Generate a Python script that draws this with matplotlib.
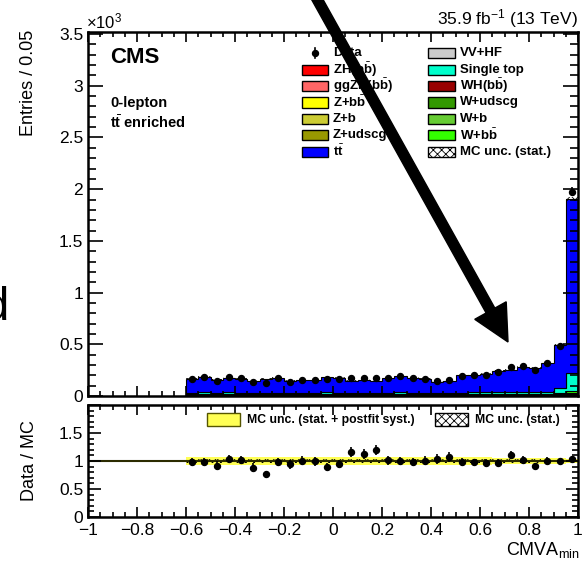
import numpy as np
import matplotlib
matplotlib.use("Agg")
import matplotlib.pyplot as plt
from matplotlib.patches import Rectangle, FancyArrow
from matplotlib.lines import Line2D
from matplotlib.ticker import MultipleLocator, FuncFormatter, FixedLocator

plt.rcParams["font.family"] = ["Liberation Sans", "DejaVu Sans"]
plt.rcParams["mathtext.fontset"] = "custom"
plt.rcParams["mathtext.rm"] = "Liberation Sans"
plt.rcParams["mathtext.it"] = "Liberation Sans:italic"
plt.rcParams["mathtext.bf"] = "Liberation Sans:bold"
plt.rcParams["mathtext.sf"] = "Liberation Sans"
plt.rcParams["hatch.linewidth"] = 0.6

# ---------------- binning: CMVA_min from -0.6 to 1.0 in steps of 0.05 ----------------
bin_lo, bin_hi, n_bins = -0.6, 1.0, 32
edges = np.linspace(bin_lo, bin_hi, n_bins + 1)
centers = 0.5 * (edges[:-1] + edges[1:])

# ---------------- background components (events per bin) ----------------
zh = [0.1, 0.1, 0.1, 0.1, 0.1, 0.1, 0.1, 0.1, 0.1, 0.1, 0.1, 0.1, 0.1, 0.1, 0.1, 0.1,
      0.1, 0.2, 0.2, 0.2, 0.2, 0.2, 0.2, 0.2, 0.3, 0.3, 0.3, 0.4, 0.4, 0.6, 1.2, 4.5]
ggzh = [0.0, 0.0, 0.0, 0.0, 0.0, 0.0, 0.0, 0.0, 0.0, 0.0, 0.0, 0.0, 0.0, 0.0, 0.0, 0.0,
        0.1, 0.1, 0.1, 0.1, 0.1, 0.1, 0.1, 0.1, 0.1, 0.1, 0.1, 0.1, 0.1, 0.2, 0.3, 1.0]
wh = [0.1, 0.1, 0.1, 0.1, 0.1, 0.1, 0.1, 0.1, 0.1, 0.1, 0.1, 0.1, 0.1, 0.1, 0.1, 0.1,
      0.2, 0.2, 0.2, 0.2, 0.2, 0.2, 0.2, 0.2, 0.3, 0.3, 0.3, 0.4, 0.4, 0.6, 1.2, 4.0]
vv_hf = [0.8, 0.9, 0.8, 0.8, 0.8, 0.7, 0.8, 0.8, 0.7, 0.7, 0.7, 0.8, 0.8, 0.7, 0.7, 0.7,
         0.8, 0.9, 0.8, 0.8, 0.7, 0.7, 0.9, 0.9, 0.9, 1.0, 1.0, 1.1, 1.1, 1.2, 1.5, 3.0]
z_udscg = [3, 3, 2, 3, 3, 2, 3, 3, 2, 2, 3, 3, 3, 2, 2, 3,
           3, 3, 2, 2, 2, 2, 3, 3, 3, 3, 3, 2, 2, 2, 2, 1]
z_b = [1, 1, 1, 1, 1, 1, 1, 1, 1, 1, 1, 1, 1, 1, 1, 1,
       1, 1, 1, 1, 1, 1, 1, 1, 1, 1, 1, 1, 1, 1, 1, 2]
z_bb = [1, 1, 1, 1, 1, 1, 1, 1, 1, 1, 1, 1, 1, 1, 1, 1,
        1, 1, 1, 1, 1, 1, 1, 1, 1, 1, 1, 1, 2, 2, 3, 6]
w_udscg = [12, 13, 12, 12, 11, 11, 12, 12, 11, 11, 11, 12, 12, 11, 11, 11,
           12, 12, 11, 10, 10, 10, 11, 11, 11, 11, 10, 10, 9, 8, 7, 4]
w_b = [3, 3, 3, 3, 3, 3, 3, 3, 3, 3, 3, 3, 3, 3, 3, 3,
       3, 3, 3, 3, 3, 3, 3, 3, 3, 3, 3, 3, 3, 3, 3, 4]
w_bb = [2, 2, 2, 2, 2, 2, 2, 2, 2, 2, 2, 2, 2, 2, 2, 2,
        2, 2, 2, 2, 2, 2, 2, 2, 2, 2, 3, 3, 3, 4, 8, 22]
single_top = [10, 11, 10, 11, 10, 9, 10, 10, 9, 9, 9, 11, 10, 9, 9, 9,
              10, 11, 10, 10, 9, 9, 11, 12, 12, 13, 14, 16, 16, 20, 45, 170]
ttbar = [135, 149, 127, 142, 137, 119, 135, 141, 117, 122, 120, 147, 143, 119, 125, 113,
         139, 163, 145, 135, 110, 115, 165, 171, 180, 205, 214, 247, 236, 272, 417, 1680]

# observed events
data = [165, 180, 146, 182, 172, 131, 128, 171, 138, 153, 150, 162, 167, 173, 174, 172,
        174, 198, 173, 166, 144, 155, 194, 200, 207, 234, 278, 291, 249, 317, 488, 1976]

# relative MC uncertainties
mc_stat_rel = [0.035, 0.035, 0.036, 0.035, 0.035, 0.037, 0.036, 0.035, 0.037, 0.036, 0.036,
               0.035, 0.035, 0.037, 0.036, 0.037, 0.035, 0.034, 0.035, 0.036, 0.038, 0.037,
               0.033, 0.033, 0.032, 0.030, 0.030, 0.028, 0.028, 0.026, 0.020, 0.010]
mc_syst_rel = [0.070, 0.070, 0.070, 0.070, 0.070, 0.070, 0.070, 0.070, 0.070, 0.070, 0.070,
               0.070, 0.070, 0.070, 0.070, 0.070, 0.070, 0.070, 0.070, 0.070, 0.070, 0.070,
               0.065, 0.065, 0.065, 0.060, 0.060, 0.060, 0.055, 0.050, 0.045, 0.030]

stack = [
    ("ZH(bb)", zh, "#ff0000"),
    ("ggZH(bb)", ggzh, "#ff6666"),
    ("WH(bb)", wh, "#990000"),
    ("VV+HF", vv_hf, "#cccccc"),
    ("Z+udscg", z_udscg, "#999900"),
    ("Z+b", z_b, "#cccc33"),
    ("Z+bb", z_bb, "#ffff00"),
    ("W+udscg", w_udscg, "#339900"),
    ("W+b", w_b, "#66cc33"),
    ("W+bb", w_bb, "#33ff00"),
    ("Single top", single_top, "#00ffcc"),
    ("ttbar", ttbar, "#0000ff"),
]

W, H = 587, 565
fig = plt.figure(figsize=(W / 100, H / 100), dpi=100)


def fx(px):
    return px / W


def fy(py):
    return 1 - py / H


ax = fig.add_axes([fx(88), fy(396), 490 / W, 364 / H])
rax = fig.add_axes([fx(88), fy(517), 490 / W, 112 / H])

# ---------------- stacked histogram ----------------
bottom = np.zeros(n_bins)
for name, vals, col in stack:
    top = bottom + np.asarray(vals, dtype=float)
    ax.stairs(top, edges, baseline=bottom.copy(), fill=True, facecolor=col,
              edgecolor="black", linewidth=0.8, zorder=1)
    bottom = top
total = bottom

stat_abs = total * np.asarray(mc_stat_rel)
ax.stairs(total + stat_abs, edges, baseline=total - stat_abs, fill=True,
          facecolor="none", edgecolor="black", hatch="xxxx", linewidth=0, zorder=1.2)

d = np.asarray(data, dtype=float)
ax.errorbar(centers, d, yerr=np.sqrt(d), fmt="o", color="black", ms=4.3,
            elinewidth=1.2, capsize=0, zorder=3)

ax.set_xlim(-1, 1)
ax.set_ylim(0, 3520)
ax.set_axisbelow(False)
ax.xaxis.set_major_locator(MultipleLocator(0.2))
ax.xaxis.set_minor_locator(MultipleLocator(0.05))
ax.yaxis.set_major_locator(MultipleLocator(500))
ax.yaxis.set_minor_locator(MultipleLocator(100))
ax.yaxis.set_major_formatter(FuncFormatter(lambda v, p: f"{v / 1000:g}"))
ax.tick_params(which="both", direction="in", top=True, right=True, labelbottom=False,
               labelsize=12.5, width=1.2)
ax.tick_params(axis="x", which="major", length=7.2)
ax.tick_params(axis="x", which="minor", length=3.6)
ax.tick_params(axis="y", which="major", length=11, pad=3.5)
ax.tick_params(axis="y", which="minor", length=5.5)
for s in ax.spines.values():
    s.set_linewidth(1.8)

# ---------------- ratio panel ----------------
ratio = d / total
ratio_err = np.sqrt(d) / total
syst = np.asarray(mc_syst_rel)
stat = np.asarray(mc_stat_rel)
rax.stairs(1 + syst, edges, baseline=1 - syst, fill=True, facecolor="#ffff55",
           linewidth=0, zorder=1)
rax.stairs(1 + stat, edges, baseline=1 - stat, fill=True, facecolor="none",
           edgecolor="black", hatch="xxxx", linewidth=0, zorder=1.2)
rax.axhline(1, color="#2b2b00", lw=1.5, zorder=1.5)
rax.errorbar(centers, ratio, yerr=ratio_err, fmt="o", color="black", ms=4.3,
             elinewidth=1.2, capsize=0, zorder=3)

rax.set_xlim(-1, 1)
rax.set_ylim(0, 2)
rax.set_axisbelow(False)
rax.xaxis.set_major_locator(MultipleLocator(0.2))
rax.xaxis.set_minor_locator(MultipleLocator(0.05))


def xfmt(v, p):
    v = round(v, 2)
    if abs(v) < 1e-9:
        return "0"
    return f"{v:g}".replace("-", "\u2212")


rax.xaxis.set_major_formatter(FuncFormatter(xfmt))
rax.yaxis.set_major_locator(FixedLocator([0, 0.5, 1, 1.5, 2]))
rax.yaxis.set_minor_locator(MultipleLocator(0.1))
rax.yaxis.set_major_formatter(FuncFormatter(lambda v, p: "" if v > 1.9 else f"{v:g}"))
rax.tick_params(which="both", direction="in", top=True, right=True, labelsize=12.5, width=1.2)
rax.tick_params(axis="x", which="major", length=7.2, pad=4)
rax.tick_params(axis="x", which="minor", length=3.6)
rax.tick_params(axis="y", which="major", length=9, pad=3.5)
rax.tick_params(axis="y", which="minor", length=4.5)
for s in rax.spines.values():
    s.set_linewidth(1.8)

# ---------------- axis titles and labels ----------------
fig.text(fx(29), fy(30), "Entries / 0.05", rotation=90, ha="center", va="top", fontsize=13)
fig.text(fx(30), fy(461), "Data / MC", rotation=90, ha="center", va="center", fontsize=13)
fig.text(fx(580), fy(555), r"CMVA$_{\mathregular{min}}$", ha="right", va="baseline", fontsize=13)
fig.text(fx(86), fy(28), "\u00d710$^{\\mathregular{3}}$", ha="left", va="baseline", fontsize=12)
fig.text(fx(578), fy(24), r"35.9 fb$^{\mathregular{-1}}$ (13 TeV)", ha="right",
         va="baseline", fontsize=12.5)
fig.text(fx(110), fy(63), "CMS", ha="left", va="baseline", fontsize=16, fontweight="bold")
fig.text(fx(110), fy(107), "0-lepton", ha="left", va="baseline", fontsize=10.5,
         fontweight="bold")
fig.text(fx(110), fy(128), r"t$\bar{\mathbf{t}}$ enriched", ha="left", va="baseline",
         fontsize=10.5, fontweight="bold")


# ---------------- legends ----------------
def legend_box(x0, yc, w, h, **kw):
    fig.add_artist(Rectangle((fx(x0), fy(yc + h / 2)), w / W, h / H,
                             transform=fig.transFigure, linewidth=1.0, **kw))


rows = [53.3, 69.7, 86.1, 102.5, 118.9, 135.3, 151.7]
left_entries = [
    (r"ZH(b$\bar{\mathbf{b}}$)", "#ff0000"),
    (r"ggZH(b$\bar{\mathbf{b}}$)", "#ff6666"),
    (r"Z+b$\bar{\mathbf{b}}$", "#ffff00"),
    ("Z+b", "#cccc33"),
    ("Z+udscg", "#999900"),
    (r"t$\bar{\mathbf{t}}$", "#0000ff"),
]
right_entries = [
    ("VV+HF", "#cccccc"),
    ("Single top", "#00ffcc"),
    (r"WH(b$\bar{\mathbf{b}}$)", "#990000"),
    ("W+udscg", "#339900"),
    ("W+b", "#66cc33"),
    (r"W+b$\bar{\mathbf{b}}$", "#33ff00"),
]
leg_fs = 9.5

# data entry
fig.add_artist(Line2D([fx(315)], [fy(rows[0])], marker="o", color="black", ms=4.3,
                      transform=fig.transFigure))
fig.add_artist(Line2D([fx(315), fx(315)], [fy(rows[0] - 5), fy(rows[0] + 5)],
                      color="black", lw=1.2, transform=fig.transFigure))
fig.text(fx(333), fy(rows[0]), "Data", ha="left", va="center", fontsize=leg_fs,
         fontweight="bold")
for (lab, col), yc in zip(left_entries, rows[1:]):
    legend_box(302, yc, 26, 10, facecolor=col, edgecolor="black")
    fig.text(fx(333), fy(yc), lab, ha="left", va="center", fontsize=leg_fs, fontweight="bold")
for (lab, col), yc in zip(right_entries, rows[:-1]):
    legend_box(428, yc, 27, 10, facecolor=col, edgecolor="black")
    fig.text(fx(460), fy(yc), lab, ha="left", va="center", fontsize=leg_fs, fontweight="bold")
legend_box(428, rows[-1], 27, 10, facecolor="white", edgecolor="black", hatch="xxxx")
fig.text(fx(460), fy(rows[-1]), "MC unc. (stat.)", ha="left", va="center", fontsize=leg_fs,
         fontweight="bold")

# ratio panel legend
legend_box(207, 419.5, 33, 13, facecolor="#ffff55", edgecolor="#555500")
fig.text(fx(247), fy(419.5), "MC unc. (stat. + postfit syst.)", ha="left", va="center",
         fontsize=8.8, fontweight="bold")
legend_box(435, 419.5, 33, 13, facecolor="white", edgecolor="black", hatch="xxxx")
fig.text(fx(475), fy(419.5), "MC unc. (stat.)", ha="left", va="center", fontsize=8.8,
         fontweight="bold")

# ---------------- annotation arrow and margin letter ----------------
arrow = FancyArrow(3.12, (H + 10) / 100, 1.96, -3.52, width=0.10, head_width=0.36,
                   head_length=0.36, length_includes_head=True, color="black",
                   transform=fig.dpi_scale_trans, zorder=10)
fig.add_artist(arrow)
fig.text(fx(9.5), fy(320), "d", ha="right", va="baseline", fontsize=34)

fig.savefig("out.png", dpi=100)
